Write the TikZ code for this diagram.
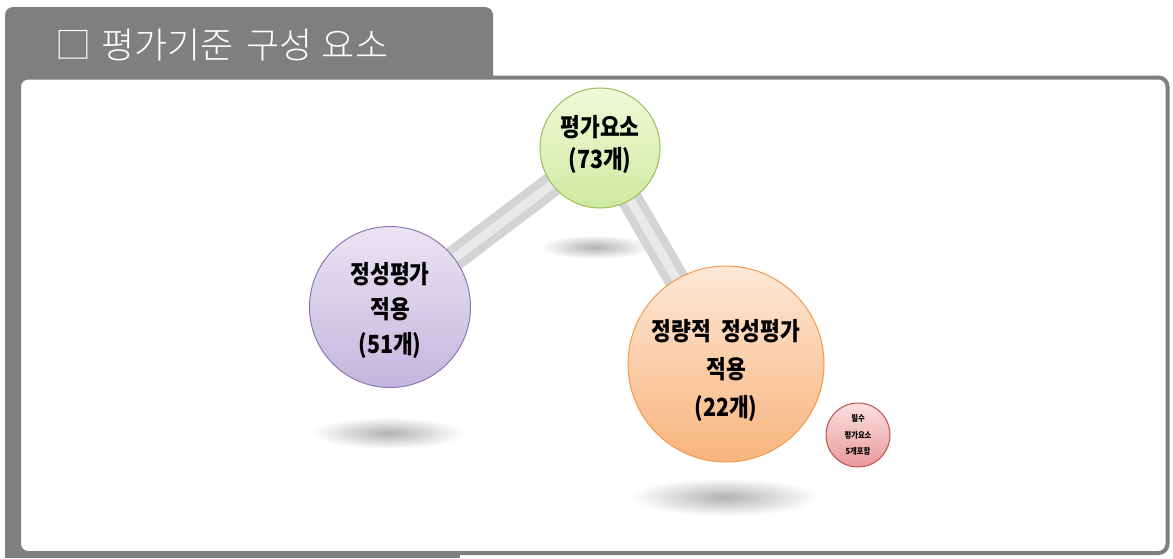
\documentclass[tikz,border=0pt]{standalone}
\usepackage{fontspec}
\newfontfamily\kr{Noto Sans CJK KR}
\newfontfamily\krc{Noto Sans CJK KR}[FakeStretch=0.86]
\newfontfamily\krl{Noto Sans CJK KR Light}
\definecolor{frame}{HTML}{7F7F7F}
\definecolor{barc}{HTML}{D4D4D4}
\definecolor{gtop}{HTML}{F1F9D8}\definecolor{gbot}{HTML}{CFE9A0}\definecolor{gdraw}{HTML}{9DBE5A}
\definecolor{ptop}{HTML}{EAE4F3}\definecolor{pbot}{HTML}{C3B6DE}\definecolor{pdraw}{HTML}{8A78B2}
\definecolor{otop}{HTML}{FEE8D6}\definecolor{obot}{HTML}{F8B47C}\definecolor{odraw}{HTML}{F29A50}
\definecolor{rtop}{HTML}{FBE0E0}\definecolor{rbot}{HTML}{E8999A}\definecolor{rdraw}{HTML}{C0504D}
\pgfdeclarelayer{back}\pgfdeclarelayer{mid}
\pgfsetlayers{back,mid,main}
\tikzset{
  ball/.style={circle, inner sep=0pt, line width=1pt, align=center, text=black},
  balltext/.style={align=center, text=black, inner sep=0pt},
  bar/.style={line width=25pt, draw=barc},
  barhi/.style={line width=9pt, draw=white, opacity=0.5},
  shadowell/.style={inner color=black!30, outer color=white},
}
\begin{document}
\begin{tikzpicture}[x=1pt,y=-1pt]
\useasboundingbox (0,0) rectangle (1173,558);
\begin{pgfonlayer}{back}
\fill[frame, rounded corners=8pt] (5,7) rectangle (493,120);
\fill[frame] (5,60) rectangle (460,558);
\draw[frame, line width=4pt, fill=white, rounded corners=9pt] (19,77.5) rectangle (1167.5,553);
\shade[shadowell] (595,247) ellipse [x radius=56, y radius=12];
\shade[shadowell] (388,433) ellipse [x radius=76, y radius=16];
\shade[shadowell] (725,497) ellipse [x radius=94, y radius=19];
\end{pgfonlayer}
\node[anchor=west, text=white, inner sep=0pt, font=\krl\fontsize{36}{36}\selectfont] (title) at (55,45)
  {□\hspace{10pt}평가기준\hspace{13pt}구성\hspace{9pt}요소};
% balls
\node[ball, minimum size=120pt, draw=gdraw, top color=gtop, bottom color=gbot,
  label={[balltext, yshift=4pt, font=\krc\bfseries\fontsize{25}{32}\selectfont]center:평가요소\\(73개)}] (g) at (600,148) {};
\node[ball, minimum size=161pt, draw=pdraw, top color=ptop, bottom color=pbot,
  label={[balltext, yshift=-3pt, font=\krc\bfseries\fontsize{25}{35}\selectfont]center:정성평가\\적용\\(51개)}] (p) at (390,307) {};
\node[ball, minimum size=196pt, draw=odraw, top color=otop, bottom color=obot,
  label={[balltext, yshift=-6pt, font=\krc\bfseries\fontsize{25}{38}\selectfont]center:정량적\hspace{10pt}정성평가\\적용\\(22개)}] (o) at (726,364) {};
\node[ball, minimum size=64pt, draw=rdraw, top color=rtop, bottom color=rbot,
  label={[balltext, font=\krc\bfseries\fontsize{8.5}{16.5}\selectfont]center:필수\\평가요소\\5개포함}] (r) at (858,435) {};
% connectors
\begin{pgfonlayer}{mid}
\draw[bar] (g.center) -- (p.center);
\draw[bar] (g.center) -- (o.center);
\draw[barhi] (g.center) -- (p.center);
\draw[barhi] (g.center) -- (o.center);
\end{pgfonlayer}
\end{tikzpicture}
\end{document}
